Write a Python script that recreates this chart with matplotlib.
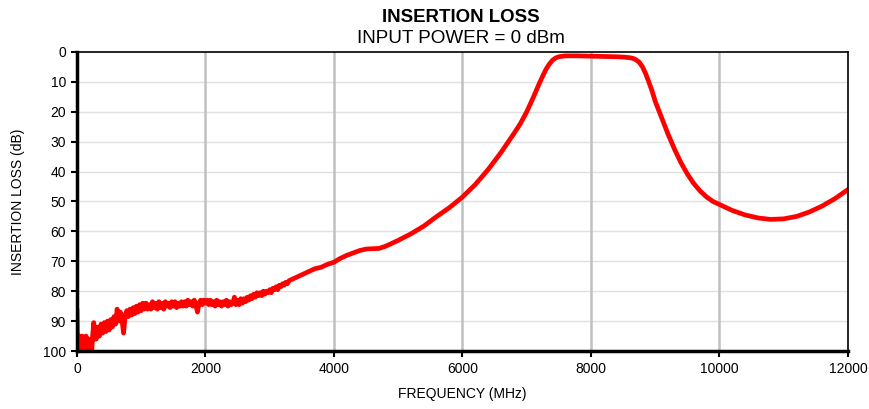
import numpy as np
import matplotlib
matplotlib.use("Agg")
import matplotlib.pyplot as plt

plt.rcParams["font.family"] = ["Liberation Sans", "DejaVu Sans"]

# very noisy start, 10 MHz steps (0 .. 290 MHz)
freq_start = list(range(0, 300, 10))
loss_start = [
    86, 100, 96, 100, 95, 100, 97, 100, 95, 100,
    96, 100, 97, 100, 95, 100, 98, 100, 96, 100,
    97, 100, 99, 100, 96, 93, 90.5, 92, 96, 95,
]

# noisy low band, 25 MHz steps (300 .. 3300 MHz)
freq_low = list(range(300, 3325, 25))
loss_low = [
    96, 92, 95, 91, 94, 90.5, 93.5, 90,
    93, 89.5, 92, 88.5, 91, 86, 90, 87, 89.5, 94,
    88, 86.5, 88.5, 86, 88, 85.5, 87.5, 85, 87, 84.5,
    86.5, 84, 86, 84, 86, 84.5, 86, 83.5, 85.5, 84,
    86, 83.5, 85.5, 84, 86, 83.5, 85, 84, 85.5, 83.5,
    85, 83.5, 85.5, 84, 85, 83.5, 85, 83.5, 85, 83,
    84.5, 83.5, 85, 83, 84.5, 87, 84, 83, 84.5, 83,
    84, 83, 84.5, 83, 84.5, 83.5, 85, 83, 84.5, 83.5,
    85, 83.5, 84.5, 83, 85, 83.5, 84.5, 84, 82, 84.5,
    83, 84.5, 82.5, 84, 82.5, 83.5, 82, 83, 81.5, 82.5,
    81, 82, 80.5, 81.5, 80.5, 81.5, 80, 81, 80, 80.5,
    79.5, 80.5, 79, 79.5, 78.5, 79.5, 78, 78.5, 77.5, 78,
    77, 77.5, 76.5,
]

# smooth part of the response
freq_high = [
    3350, 3400, 3450, 3500, 3600, 3700, 3800, 3900, 4000, 4100,
    4200, 4300, 4400, 4500, 4600, 4700, 4800, 4900, 5000, 5200,
    5400, 5600, 5800, 6000, 6200, 6400, 6600, 6800, 6900, 7000,
    7100, 7200, 7250, 7300, 7350, 7400, 7450, 7500, 7600, 7800,
    8000, 8200, 8400, 8500, 8600, 8650, 8700, 8750, 8800, 8850,
    8900, 8950, 9000, 9100, 9200, 9300, 9400, 9500, 9600, 9700,
    9800, 9900, 10000, 10200, 10400, 10600, 10800, 11000, 11200, 11400,
    11600, 11800, 12000,
]
loss_high = [
    76, 75.5, 75, 74.5, 73.5, 72.5, 72, 71, 70.3, 69,
    68, 67.2, 66.4, 65.9, 65.8, 65.7, 65, 64, 63, 60.8,
    58.2, 55, 52, 48.5, 44.3, 39.3, 33.6, 27.3, 24, 20,
    15.3, 10.3, 8, 5.8, 4.1, 2.8, 2.0, 1.6, 1.3, 1.3,
    1.4, 1.5, 1.6, 1.7, 1.9, 2.1, 2.6, 3.4, 4.9, 7.2,
    10, 13, 16.5, 22, 27.5, 32.5, 37, 40.8, 44, 46.5,
    48.5, 50, 51, 53, 54.5, 55.5, 56, 55.8, 55, 53.5,
    51.5, 49, 46,
]

x_ticks = [0, 2000, 4000, 6000, 8000, 10000, 12000]
y_ticks = [0, 10, 20, 30, 40, 50, 60, 70, 80, 90, 100]

freq = np.array(freq_start + freq_low + freq_high)
loss = np.array(loss_start + loss_low + loss_high)

fig = plt.figure(figsize=(8.69, 4.09), dpi=100)
ax = fig.add_axes([0.0886, 0.1418, 0.8872, 0.7311])

ax.plot(freq, loss, color="#ff0000", lw=3.4, solid_joinstyle="round",
        solid_capstyle="round", zorder=3)

ax.set_xlim(0, 12000)
ax.set_ylim(100, 0)
ax.set_xticks(x_ticks)
ax.set_yticks(y_ticks)

for v in y_ticks[1:-1]:
    ax.axhline(v, color="#e0e0e0", lw=1, zorder=1)
for v in x_ticks[1:-1]:
    ax.axvline(v, color="#c0c0c0", lw=1.8, zorder=2)

ax.spines["left"].set_linewidth(2.5)
ax.spines["bottom"].set_linewidth(2.5)
ax.spines["top"].set_linewidth(1.2)
ax.spines["right"].set_linewidth(1.2)
for s in ax.spines.values():
    s.set_zorder(4)

ax.tick_params(axis="both", direction="out", length=4, width=1.5,
               labelsize=10, colors="black")
ax.tick_params(axis="x", pad=4)
ax.tick_params(axis="y", pad=4)

ax.set_xlabel("FREQUENCY (MHz)", fontsize=10, labelpad=8)
ax.set_ylabel("INSERTION LOSS (dB)", fontsize=10, labelpad=13)

fig.text(0.530, 0.958, "INSERTION LOSS", ha="center", va="center",
         fontsize=13.4, fontweight="bold")
fig.text(0.530, 0.905, "INPUT POWER = 0 dBm", ha="center", va="center",
         fontsize=13.6)

fig.savefig("out.png", dpi=100)
